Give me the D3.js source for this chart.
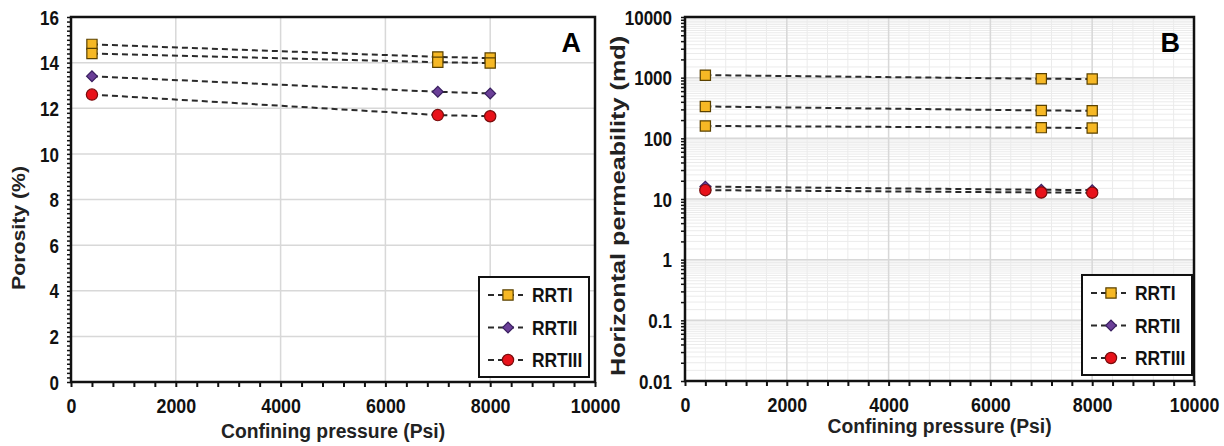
<!DOCTYPE html>
<html>
<head>
<meta charset="utf-8">
<script src="https://cdn.jsdelivr.net/npm/d3@7"></script>
<style>
  body { margin: 0; background: #fff; }
  svg { font-family: "Liberation Sans", Arial, sans-serif; font-weight: bold; }
</style>
</head>
<body>
<svg id="chart" width="1224" height="446"></svg>
<script>
// confining pressure of each measurement
var pressure = [400, 7000, 8000];

// porosity (%) per sample, panel A
var poroRRTI_1 = [14.8, 14.25, 14.2];
var poroRRTI_2 = [14.4, 14.02, 13.98];
var poroRRTII = [13.4, 12.72, 12.65];
var poroRRTIII = [12.6, 11.7, 11.65];

// horizontal permeability (md) per sample, panel B
var permRRTI_1 = [1100, 960, 950];
var permRRTI_2 = [335, 288, 285];
var permRRTI_3 = [160, 150, 148];
var permRRTII = [16, 14.2, 14];
var permRRTIII = [14, 12.8, 12.7];

var legendNames = ["RRTI", "RRTII", "RRTIII"];
var xTicks = [0, 2000, 4000, 6000, 8000, 10000];
var poroTicks = [0, 2, 4, 6, 8, 10, 12, 14, 16];
var permTicks = [0.01, 0.1, 1, 10, 100, 1000, 10000];

var SX = 0.85;  // the source image is squeezed sideways, text looks narrow
var FONT = "bold {s}px 'Liberation Sans', Arial, sans-serif";

var styles = {
  RRTI: { shape: d3.symbolSquare, size: 105, rot: 0, fill: "#f6b825", stroke: "#5a4100" },
  RRTII: { shape: d3.symbolSquare, size: 58, rot: 45, fill: "#6b3f98", stroke: "#3a2060" },
  RRTIII: { shape: d3.symbolCircle, size: 100, rot: 0, fill: "#e8121a", stroke: "#7a0c0c" }
};

var svg = d3.select("#chart");

function font(s){ return FONT.replace("{s}", s); }

function marker(sel, type, px, py){
  var st = styles[type];
  sel.append("path").attr("d", d3.symbol().type(st.shape).size(st.size))
    .attr("transform", "translate(" + px + "," + py + ") rotate(" + st.rot + ")")
    .attr("fill", st.fill).attr("stroke", st.stroke).attr("stroke-width", 1.2);
}

function panel(cfg){
  var g = svg.append("g");
  var x = d3.scaleLinear().domain([0, 10000]).range([cfg.left, cfg.right]);
  var y = cfg.y;

  // grid
  var grid = g.append("g");
  if (cfg.log) {
    var minor = [];
    for (var e = -2; e < 4; e++) {
      for (var k = 1; k < 10; k++) {
        minor.push(k * Math.pow(10, e));
        minor.push((k + 0.5) * Math.pow(10, e));
      }
    }
    grid.selectAll(".hm").data(minor).enter().append("line")
      .attr("x1", cfg.left).attr("x2", cfg.right)
      .attr("y1", function(d){ return y(d); }).attr("y2", function(d){ return y(d); })
      .attr("stroke", "#ebebeb").attr("stroke-width", 1);
    grid.selectAll(".vm").data(d3.range(400, 10000, 400)).enter().append("line")
      .attr("y1", cfg.top).attr("y2", cfg.bottom)
      .attr("x1", function(d){ return x(d); }).attr("x2", function(d){ return x(d); })
      .attr("stroke", "#ebebeb").attr("stroke-width", 1);
  }
  grid.selectAll(".hy").data(cfg.yTicks).enter().append("line")
    .attr("x1", cfg.left).attr("x2", cfg.right)
    .attr("y1", function(d){ return y(d); }).attr("y2", function(d){ return y(d); })
    .attr("stroke", "#d8d8d8").attr("stroke-width", 1.5);
  grid.selectAll(".vx").data(xTicks).enter().append("line")
    .attr("y1", cfg.top).attr("y2", cfg.bottom)
    .attr("x1", function(d){ return x(d); }).attr("x2", function(d){ return x(d); })
    .attr("stroke", "#d8d8d8").attr("stroke-width", 1.5);

  // axes: labels only, ticks drawn separately
  var xa = g.append("g").attr("transform", "translate(0," + cfg.bottom + ")")
    .call(d3.axisBottom(x).tickValues(xTicks).tickSize(0).tickPadding(0).tickFormat(d3.format("d")));
  xa.select(".domain").remove();
  xa.selectAll("text").attr("y", 0).attr("dy", null).style("font", font(21)).attr("fill", "#111")
    .attr("transform", "translate(0,31) scale(" + SX + ",1)");
  g.append("g").attr("transform", "translate(0," + cfg.bottom + ")")
    .call(d3.axisBottom(x).tickValues(d3.range(0, 10001, 400)).tickSize(5).tickFormat(""))
    .call(function(s){ s.select(".domain").remove(); s.selectAll("line").attr("stroke", "#111").attr("stroke-width", 2); });

  var ya = g.append("g").attr("transform", "translate(" + cfg.left + ",0)")
    .call(d3.axisLeft(y).tickValues(cfg.yTicks).tickSize(0).tickPadding(0).tickFormat(cfg.fmt));
  ya.select(".domain").remove();
  ya.selectAll("text").attr("x", 0).attr("dy", "0.36em").style("font", font(20)).attr("fill", "#111")
    .attr("transform", "translate(" + (-cfg.yPad) + ",0) scale(" + SX + ",1)");
  g.append("g").attr("transform", "translate(" + cfg.left + ",0)")
    .call(d3.axisLeft(y).tickValues(cfg.yMinor).tickSize(4).tickFormat(""))
    .call(function(s){ s.select(".domain").remove(); s.selectAll("line").attr("stroke", "#111").attr("stroke-width", 1.5); });

  // frame
  g.append("rect").attr("x", cfg.left).attr("y", cfg.top)
    .attr("width", cfg.right - cfg.left).attr("height", cfg.bottom - cfg.top)
    .attr("fill", "none").attr("stroke", "#111").attr("stroke-width", 2.5);

  // series
  var line = d3.line().x(function(d){ return x(d[0]); }).y(function(d){ return y(d[1]); });
  cfg.series.forEach(function(s){
    var pts = pressure.map(function(p, i){ return [p, s.values[i]]; });
    g.append("path").attr("d", line(pts)).attr("fill", "none")
      .attr("stroke", "#2a2a2a").attr("stroke-width", 2).attr("stroke-dasharray", "6,4");
    pts.forEach(function(d){ marker(g, s.type, x(d[0]), y(d[1])); });
  });

  // panel letter
  g.append("text").attr("x", cfg.right - 14).attr("y", cfg.top + 35)
    .attr("text-anchor", "end").style("font", font(27)).attr("fill", "#000").text(cfg.letter);

  // legend
  var lg = g.append("g");
  lg.append("rect").attr("x", cfg.legX).attr("y", cfg.legY).attr("width", 110).attr("height", 100)
    .attr("fill", "#fff").attr("stroke", "#111").attr("stroke-width", 2);
  legendNames.forEach(function(n, i){
    var cy = cfg.legY + 18 + i * 32.5;
    lg.append("line").attr("x1", cfg.legX + 9).attr("x2", cfg.legX + 44).attr("y1", cy).attr("y2", cy)
      .attr("stroke", "#2a2a2a").attr("stroke-width", 2).attr("stroke-dasharray", "6,4");
    marker(lg, n, cfg.legX + 29, cy);
    lg.append("text").attr("transform", "translate(" + (cfg.legX + 53) + "," + (cy + 7) + ") scale(0.87,1)")
      .style("font", font(20)).attr("fill", "#111").text(n);
  });

  // titles
  svg.append("text").attr("transform", "translate(" + ((cfg.left + cfg.right) / 2) + "," + cfg.xTitleY + ") scale(0.92,1)")
    .attr("text-anchor", "middle").style("font", font(21)).attr("fill", "#222")
    .text("Confining pressure (Psi)");
  svg.append("text").attr("transform", "translate(" + cfg.yTitleX + "," + cfg.yTitleMid + ") rotate(-90) scale(" + cfg.yTitleStretch + ",1)")
    .attr("text-anchor", "middle").style("font", font(cfg.yTitleSize)).attr("fill", "#222")
    .text(cfg.yTitle);
}

panel({
  left: 71, right: 595, top: 17, bottom: 382,
  y: d3.scaleLinear().domain([0, 16]).range([382, 17]),
  yTicks: poroTicks, yMinor: d3.range(0, 16.01, 0.2), yPad: 12,
  fmt: d3.format("d"), log: false, letter: "A",
  legX: 479, legY: 277, xTitleY: 438, yTitleX: 25, yTitleMid: 228, yTitleSize: 19, yTitleStretch: 1.12,
  yTitle: "Porosity (%)",
  series: [
    { type: "RRTI", values: poroRRTI_1 },
    { type: "RRTI", values: poroRRTI_2 },
    { type: "RRTII", values: poroRRTII },
    { type: "RRTIII", values: poroRRTIII }
  ]
});

var permMinor = [];
permTicks.slice(0, -1).forEach(function(t){ for (var k = 1; k < 10; k++) permMinor.push(k * t); });
permMinor.push(10000);

panel({
  left: 685, right: 1194, top: 17, bottom: 381,
  y: d3.scaleLog().domain([0.01, 10000]).range([381, 17]),
  yTicks: permTicks, yMinor: permMinor, yPad: 13,
  fmt: function(d){ return d < 1 ? String(d) : d3.format("d")(d); }, log: true, letter: "B",
  legX: 1082, legY: 275, xTitleY: 433, yTitleX: 625, yTitleMid: 206, yTitleSize: 21, yTitleStretch: 1.2,
  yTitle: "Horizontal permeability (md)",
  series: [
    { type: "RRTI", values: permRRTI_1 },
    { type: "RRTI", values: permRRTI_2 },
    { type: "RRTI", values: permRRTI_3 },
    { type: "RRTII", values: permRRTII },
    { type: "RRTIII", values: permRRTIII }
  ]
});
</script>
</body>
</html>
